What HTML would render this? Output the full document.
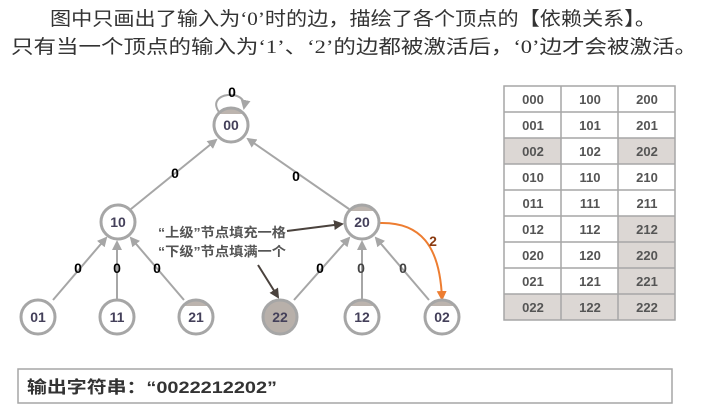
<!DOCTYPE html>
<html><head><meta charset="utf-8"><style>
body{margin:0;width:710px;height:409px;background:#fff;overflow:hidden}
svg{display:block}
</style></head><body>
<svg width="710" height="409" xmlns="http://www.w3.org/2000/svg" font-family="Liberation Sans, Noto Sans CJK SC, sans-serif">
<defs>
<marker id="ag" markerWidth="10" markerHeight="10" refX="8" refY="5" orient="auto" markerUnits="userSpaceOnUse"><path d="M0,0 L10,5 L0,10 z" fill="#a6a6a6"/></marker>
<marker id="ad" markerWidth="10" markerHeight="10" refX="8" refY="5" orient="auto" markerUnits="userSpaceOnUse"><path d="M0,0 L10,5 L0,10 z" fill="#4a423d"/></marker>
<marker id="ao" markerWidth="10" markerHeight="10" refX="8" refY="5" orient="auto" markerUnits="userSpaceOnUse"><path d="M0,0 L10,5 L0,10 z" fill="#ed7d31"/></marker>
<clipPath id="c00"><circle cx="231" cy="125" r="16"/></clipPath>
<clipPath id="c20"><circle cx="362" cy="222" r="16"/></clipPath>
<clipPath id="c21"><circle cx="196" cy="317" r="16"/></clipPath>
<clipPath id="c12"><circle cx="362" cy="317" r="16"/></clipPath>
<clipPath id="c02"><circle cx="442" cy="317" r="16"/></clipPath>
</defs>
<g font-size="19" fill="#333" font-family="Liberation Serif, Noto Sans CJK SC, sans-serif">
<text x="50" y="25" textLength="606" lengthAdjust="spacingAndGlyphs">图中只画出了输入为‘0’时的边，描绘了各个顶点的【依赖关系】。</text>
<text x="11" y="53" textLength="686" lengthAdjust="spacingAndGlyphs">只有当一个顶点的输入为‘1’、‘2’的边都被激活后，‘0’边才会被激活。</text>
</g>
<g stroke="#a6a6a6" stroke-width="2" fill="none">
<path d="M219,112 C205,92 248,88 244,108" marker-end="url(#ag)"/>
<line x1="131" y1="209" x2="216" y2="140" marker-end="url(#ag)"/>
<line x1="349" y1="209" x2="248" y2="139" marker-end="url(#ag)"/>
<line x1="53" y1="300" x2="106" y2="238" marker-end="url(#ag)"/>
<line x1="117" y1="299" x2="117" y2="242" marker-end="url(#ag)"/>
<line x1="184" y1="300" x2="131" y2="238" marker-end="url(#ag)"/>
<line x1="294" y1="300" x2="349" y2="238" marker-end="url(#ag)"/>
<line x1="362" y1="299" x2="362" y2="242" marker-end="url(#ag)"/>
<line x1="429" y1="300" x2="376" y2="238" marker-end="url(#ag)"/>
</g>
<path d="M380,223 C420,222 440,245 442,299" stroke="#ed7d31" stroke-width="2" fill="none" marker-end="url(#ao)"/>
<line x1="287" y1="231" x2="342" y2="224" stroke="#4a423d" stroke-width="2" marker-end="url(#ad)"/>
<line x1="258" y1="265" x2="278" y2="297" stroke="#4a423d" stroke-width="2" marker-end="url(#ad)"/>
<g clip-path="url(#c00)"><rect x="210" y="105" width="45" height="9" fill="#bcb4ae"/></g>
<g clip-path="url(#c20)"><rect x="340" y="202" width="45" height="9" fill="#bcb4ae"/></g>
<g clip-path="url(#c21)"><rect x="175" y="297" width="45" height="9" fill="#bcb4ae"/></g>
<g clip-path="url(#c12)"><rect x="340" y="297" width="45" height="9" fill="#bcb4ae"/></g>
<g clip-path="url(#c02)"><rect x="420" y="297" width="45" height="9" fill="#bcb4ae"/></g>
<g stroke="#a6a6a6" stroke-width="3" fill="none">
<circle cx="231" cy="125" r="17"/><circle cx="118" cy="222" r="17"/><circle cx="362" cy="222" r="17"/>
<circle cx="38" cy="317" r="17"/><circle cx="117" cy="317" r="17"/><circle cx="196" cy="317" r="17"/>
<circle cx="280" cy="317" r="17" fill="#b8b0aa"/><circle cx="362" cy="317" r="17"/><circle cx="442" cy="317" r="17"/>
</g>
<g font-size="14" fill="#44405a" text-anchor="middle" font-weight="bold">
<text x="231" y="130">00</text><text x="118" y="227">10</text><text x="362" y="227">20</text>
<text x="38" y="322">01</text><text x="117" y="322">11</text><text x="196" y="322">21</text>
<text x="280" y="322">22</text><text x="362" y="322">12</text><text x="442" y="322">02</text>
</g>
<g font-size="14" font-weight="bold" fill="#000" text-anchor="middle">
<text x="232" y="97">0</text><text x="175" y="178">0</text><text x="296" y="181">0</text>
<text x="78" y="273">0</text><text x="117" y="273">0</text><text x="157" y="273">0</text>
<text x="320" y="273">0</text><text x="361" y="273" fill="#444">0</text><text x="403" y="273" fill="#444">0</text>
<text x="433" y="246" fill="#8a3a10">2</text>
</g>
<g font-size="13" font-weight="bold" fill="#555" font-family="Liberation Sans, Noto Sans CJK SC, sans-serif">
<text x="158" y="237" textLength="128" lengthAdjust="spacingAndGlyphs">“上级”节点填充一格</text>
<text x="158" y="256" textLength="128" lengthAdjust="spacingAndGlyphs">“下级”节点填满一个</text>
</g>
<g font-size="13" font-weight="bold" fill="#555" text-anchor="middle">
<rect x="504" y="86" width="57" height="52" fill="#fff"/>
<rect x="504" y="138" width="57" height="26" fill="#dcd7d4"/>
<rect x="618" y="138" width="57" height="26" fill="#dcd7d4"/>
<rect x="618" y="216" width="57" height="78" fill="#dcd7d4"/>
<rect x="504" y="294" width="171" height="26" fill="#dcd7d4"/>
<g stroke="#a6a6a6" stroke-width="1.5" fill="none">
<rect x="504" y="86" width="171" height="234"/>
<line x1="561" y1="86" x2="561" y2="320"/><line x1="618" y1="86" x2="618" y2="320"/>
<line x1="504" y1="112" x2="675" y2="112"/><line x1="504" y1="138" x2="675" y2="138"/>
<line x1="504" y1="164" x2="675" y2="164"/><line x1="504" y1="190" x2="675" y2="190"/>
<line x1="504" y1="216" x2="675" y2="216"/><line x1="504" y1="242" x2="675" y2="242"/>
<line x1="504" y1="268" x2="675" y2="268"/><line x1="504" y1="294" x2="675" y2="294"/>
</g>
<text x="533" y="104">000</text><text x="590" y="104">100</text><text x="647" y="104">200</text>
<text x="533" y="130">001</text><text x="590" y="130">101</text><text x="647" y="130">201</text>
<text x="533" y="156">002</text><text x="590" y="156">102</text><text x="647" y="156">202</text>
<text x="533" y="182">010</text><text x="590" y="182">110</text><text x="647" y="182">210</text>
<text x="533" y="208">011</text><text x="590" y="208">111</text><text x="647" y="208">211</text>
<text x="533" y="234">012</text><text x="590" y="234">112</text><text x="647" y="234">212</text>
<text x="533" y="260">020</text><text x="590" y="260">120</text><text x="647" y="260">220</text>
<text x="533" y="286">021</text><text x="590" y="286">121</text><text x="647" y="286">221</text>
<text x="533" y="312">022</text><text x="590" y="312">122</text><text x="647" y="312">222</text>
</g>
<rect x="18" y="369" width="654" height="34" fill="#fff" stroke="#a6a6a6" stroke-width="1.5"/>
<text x="27" y="393" font-size="17" font-weight="bold" fill="#333" textLength="250" lengthAdjust="spacingAndGlyphs">输出字符串：“0022212202”</text>
</svg>
</body></html>
